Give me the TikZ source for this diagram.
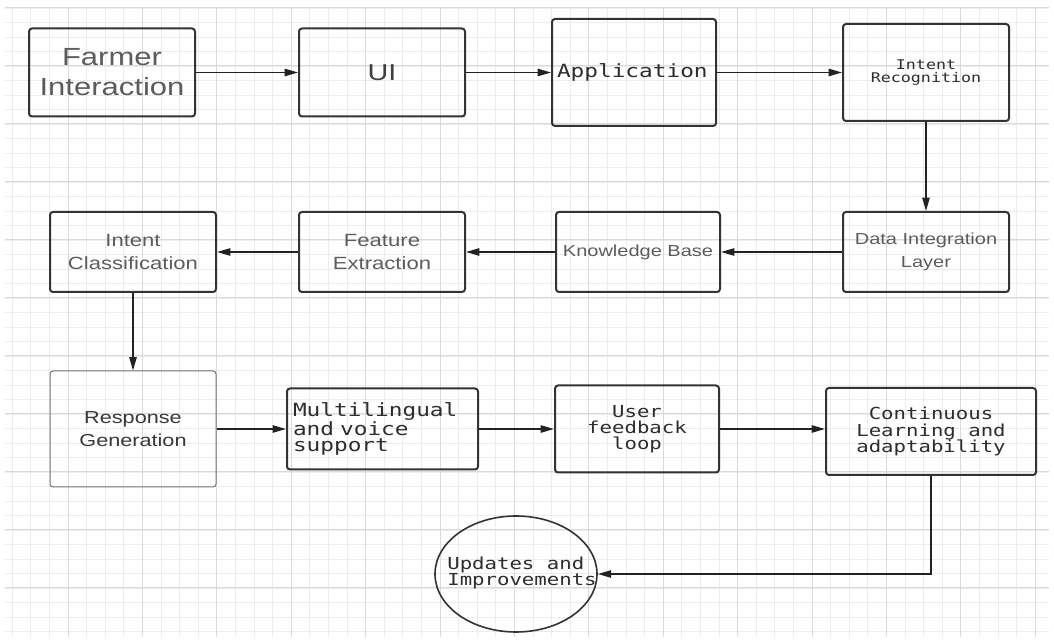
\documentclass[tikz,border=0pt]{standalone}
\usepackage{fontspec}
\usetikzlibrary{arrows.meta,shapes.geometric}

\newfontfamily\boxsans[FakeStretch=1.25]{Liberation Sans}
\newfontfamily\boxmono[FakeStretch=1.25]{DejaVu Sans Mono}

\definecolor{gridminor}{RGB}{236,236,236}
\definecolor{gridmajor}{RGB}{218,218,218}
\definecolor{boxline}{RGB}{51,51,51}
\definecolor{sanstext}{RGB}{92,92,92}
\definecolor{monotext}{RGB}{45,45,45}
\definecolor{arrowline}{RGB}{34,34,34}

\tikzset{every picture/.style={line width=0.75pt}}
\tikzset{
  stepbox/.style={draw=boxline, line width=1.5pt, rounded corners=2.25pt, inner sep=2pt, align=center},
  sanslabel/.style={font=\boxsans\fontsize{13.25}{17}\selectfont, text=sanstext},
  monolabel/.style={font=\boxmono\fontsize{12.4}{12}\selectfont, text=monotext},
  flow/.style={draw=arrowline, line width=1.1pt, -{Triangle[length=10pt,width=5.5pt]}},
  minorline/.style={draw=gridminor, line width=0.5pt},
  majorline/.style={draw=gridmajor, line width=0.75pt}
}

\begin{document}
\begin{tikzpicture}[x=0.75pt,y=0.75pt,yscale=-1,xscale=1]
\useasboundingbox (0,0) rectangle (1054,641);
\fill[white] (0,0) rectangle (1054,641);

% Background grid
\begin{scope}
\clip (5,7) rectangle (1049,637);
\foreach \i in {-3,...,53} \draw[minorline] ({68+18.6*\i},7) -- ({68+18.6*\i},637);
\foreach \j in {-1,...,44} \draw[minorline] (5,{8+14.5*\j}) -- (1049,{8+14.5*\j});
\foreach \i in {0,...,13} \draw[majorline] ({68+74.4*\i},7) -- ({68+74.4*\i},637);
\foreach \j in {0,...,10} \draw[majorline] (5,{8+58*\j}) -- (1049,{8+58*\j});
\end{scope}

% Top row
\node[stepbox, sanslabel, font=\boxsans\fontsize{18.6}{22.5}\selectfont, minimum width=124.5pt, minimum height=66pt] (farmer) at (112,72.5) {Farmer\\Interaction};
\node[stepbox, sanslabel, text=black!75, font=\boxsans\fontsize{17.25}{20}\selectfont, minimum width=124.5pt, minimum height=66pt] (ui) at (382,72.5) {UI};
\node[stepbox, monolabel, font=\boxmono\fontsize{13.65}{14}\selectfont, align=left, inner xsep=3.75pt, text width=115.5pt, minimum height=80.25pt] (app) at (634,72.5) {Application};
\node[stepbox, monolabel, font=\boxmono\fontsize{10}{10}\selectfont, minimum width=124.5pt, minimum height=72.75pt] (intrec) at (926,72.5) {Intent\\Recognition};

% Middle row
\node[stepbox, sanslabel, minimum width=124.5pt, minimum height=60pt] (intcls) at (133,252) {Intent\\Classification};
\node[stepbox, sanslabel, minimum width=124.5pt, minimum height=60pt] (feat) at (382,252) {Feature\\Extraction};
\node[stepbox, sanslabel, font=\boxsans\fontsize{12}{17}\selectfont, minimum width=123pt, minimum height=60pt] (kb) at (638,252) {Knowledge Base};
\node[stepbox, sanslabel, font=\boxsans\fontsize{12}{17}\selectfont, minimum width=124.5pt, minimum height=60pt] (datint) at (926,252) {Data Integration\\Layer};

% Bottom row
\node[stepbox, sanslabel, draw=black!55, line width=0.75pt, text=black!78, font=\boxsans\fontsize{13}{17}\selectfont, minimum width=124.5pt, minimum height=87pt] (resp) at (133,429) {Response\\Generation};
\node[stepbox, monolabel, font=\boxmono\fontsize{13.65}{12.5}\selectfont, align=left, inner xsep=4.5pt, text width=134.25pt, minimum height=60.75pt] (multi) at (382.5,429) {Multilingual\\and voice\\support};
\node[stepbox, monolabel, minimum width=123pt, minimum height=65.25pt] (feedback) at (637,429) {User\\feedback\\loop};
\node[stepbox, monolabel, font=\boxmono\fontsize{12.4}{12.2}\selectfont, minimum width=157.5pt, minimum height=65.25pt] (contlearn) at (931,431.5) {Continuous\\Learning and\\adaptability};

% Ellipse: Updates and Improvements
\node[ellipse, draw=boxline, line width=1.2pt, inner sep=0pt, minimum width=121.5pt, minimum height=87pt] (upd) at (516,574) {};
\node[monolabel, align=left, inner sep=0pt] (updtext) at (522,573) {Updates and\\Improvements};

% Connectors
\draw[flow] (farmer) -- (ui);
\draw[flow] (ui) -- (app);
\draw[flow] (app) -- (intrec);
\draw[flow] (intrec) -- (datint);
\draw[flow] (datint) -- (kb);
\draw[flow] (kb) -- (feat);
\draw[flow] (feat) -- (intcls);
\draw[flow] (intcls) -- (resp);
\draw[flow] (resp) -- (multi);
\draw[flow] (multi) -- (feedback);
\draw[flow] (feedback.east) -- (feedback.east -| contlearn.west);
\draw[flow] (contlearn.south) |- (upd.east);

\end{tikzpicture}
\end{document}
